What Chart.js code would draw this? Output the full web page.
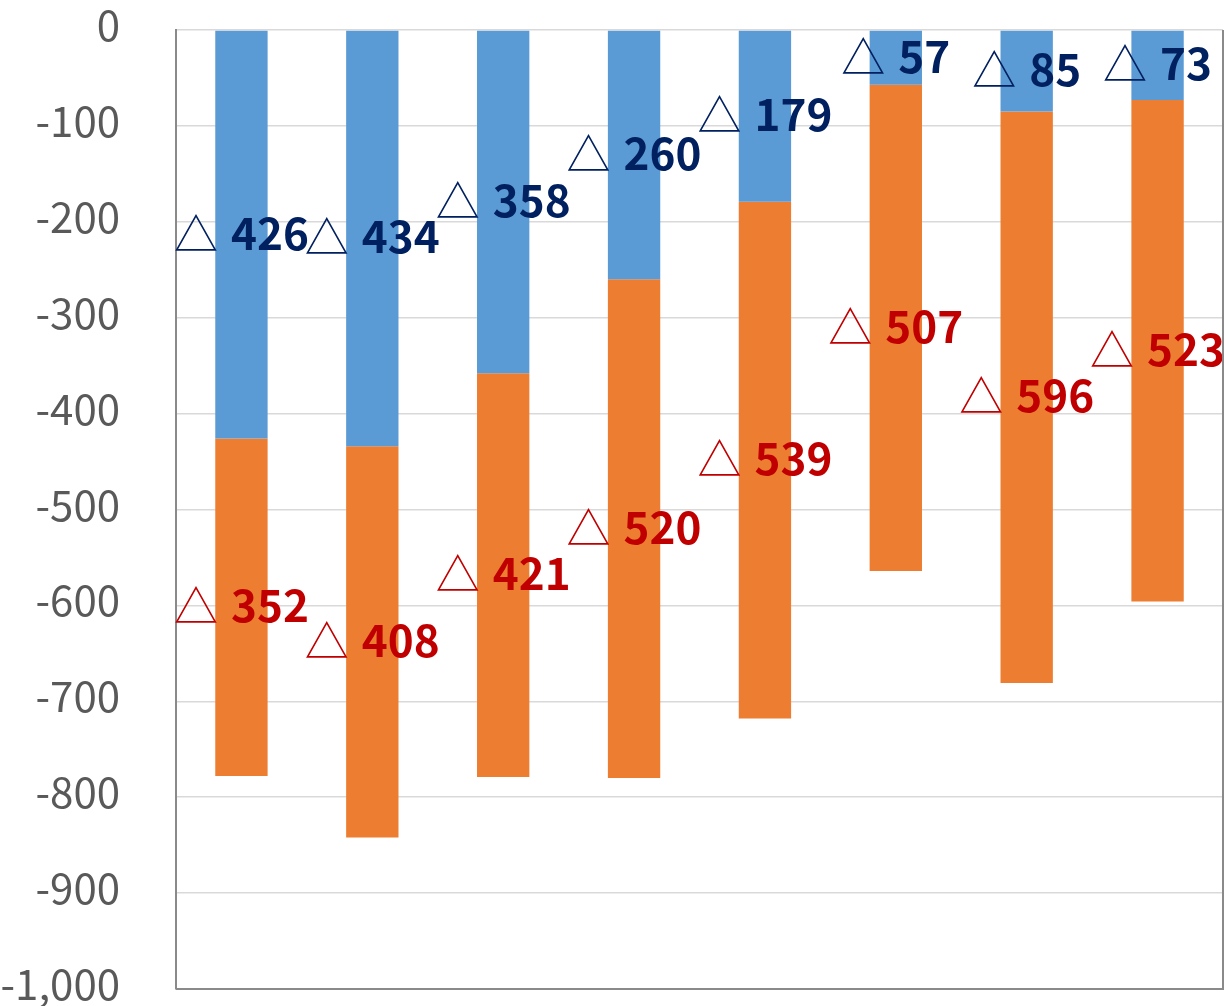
<!DOCTYPE html>
<html>
<head>
<meta charset="utf-8">
<script src="https://cdn.jsdelivr.net/npm/chart.js@4/dist/chart.umd.min.js"></script>
<style>
  html, body { margin: 0; padding: 0; background: #fff; }
  #wrap { width: 1224px; height: 1006px; position: relative; }
</style>
</head>
<body>
<div id="wrap"><canvas id="chart"></canvas></div>
<script>
// chart data (values are negative, labels show them with a triangle)
const categories = ["1", "2", "3", "4", "5", "6", "7", "8"];
const blueValues = [-426, -434, -358, -260, -179, -57, -85, -73];
const orangeValues = [-352, -408, -421, -520, -539, -507, -596, -523];
const yTicks = [0, -100, -200, -300, -400, -500, -600, -700, -800, -900, -1000];

const FONT = "'Noto Sans CJK JP', 'Noto Sans', sans-serif";
const labelColors = ["#002060", "#C00000"];

// draws "△ 426" centred on each segment
const triangleLabels = {
  id: "triangleLabels",
  afterDatasetsDraw(chart) {
    const ctx = chart.ctx;
    ctx.save();
    ctx.textBaseline = "alphabetic";
    ctx.textAlign = "left";
    chart.data.datasets.forEach((ds, di) => {
      const meta = chart.getDatasetMeta(di);
      meta.data.forEach((el, i) => {
        const tri = "△";
        const num = String(Math.abs(ds.data[i]));
        ctx.font = "400 44px " + FONT;
        const wTri = ctx.measureText(tri).width;
        ctx.font = "700 44px " + FONT;
        const wNum = ctx.measureText(num).width;
        const gap = 13;
        const x0 = el.x - (wTri + gap + wNum) / 2;
        const y = (el.y + el.base) / 2 + 15;
        ctx.fillStyle = labelColors[di];
        ctx.font = "400 44px " + FONT;
        ctx.fillText(tri, x0, y + 1);
        ctx.font = "700 44px " + FONT;
        ctx.fillText(num, x0 + wTri + gap, y);
      });
    });
    ctx.restore();
  }
};

// y tick labels, placed from the y scale
const yLabels = {
  id: "yLabels",
  afterDraw(chart) {
    const s = chart.scales.y, ctx = chart.ctx;
    ctx.save();
    ctx.font = "400 42px " + FONT;
    ctx.fillStyle = "#595959";
    ctx.textAlign = "right";
    ctx.textBaseline = "alphabetic";
    yTicks.forEach(v => {
      ctx.fillText(v.toLocaleString("en-US"), 120, s.getPixelForValue(v) + 11);
    });
    ctx.restore();
  }
};

// bottom and right frame lines of the plot area
const frame = {
  id: "frame",
  afterDraw(chart) {
    const a = chart.chartArea, ctx = chart.ctx;
    ctx.save();
    ctx.strokeStyle = "#8a8a8a";
    ctx.lineWidth = 2;
    ctx.beginPath();
    ctx.moveTo(a.left, a.bottom);
    ctx.lineTo(a.right, a.bottom);
    ctx.lineTo(a.right, a.top);
    ctx.stroke();
    ctx.restore();
  }
};

new Chart(document.getElementById("chart"), {
  type: "bar",
  data: {
    labels: categories,
    datasets: [
      { data: blueValues, backgroundColor: "#5B9BD5", barPercentage: 0.4, categoryPercentage: 1 },
      { data: orangeValues, backgroundColor: "#ED7D31", barPercentage: 0.4, categoryPercentage: 1 }
    ]
  },
  options: {
    responsive: true,
    maintainAspectRatio: false,
    animation: false,
    layout: { padding: { top: 30, bottom: 17, right: 1, left: 0 } },
    plugins: { legend: { display: false }, tooltip: { enabled: false } },
    scales: {
      x: {
        stacked: true,
        display: false
      },
      y: {
        stacked: true,
        min: -1000,
        max: 0,
        afterBuildTicks(scale) { scale.ticks = yTicks.map(v => ({ value: v })); },
        afterFit(scale) {
          scale.width = 176;
          scale.paddingTop = 0;
          scale.paddingBottom = 0;
        },
        ticks: { display: false },
        grid: { color: "#d9d9d9", lineWidth: 1.5, drawTicks: false },
        border: { display: true, color: "#8a8a8a", width: 2 }
      }
    }
  },
  plugins: [triangleLabels, yLabels, frame]
});
</script>
</body>
</html>
